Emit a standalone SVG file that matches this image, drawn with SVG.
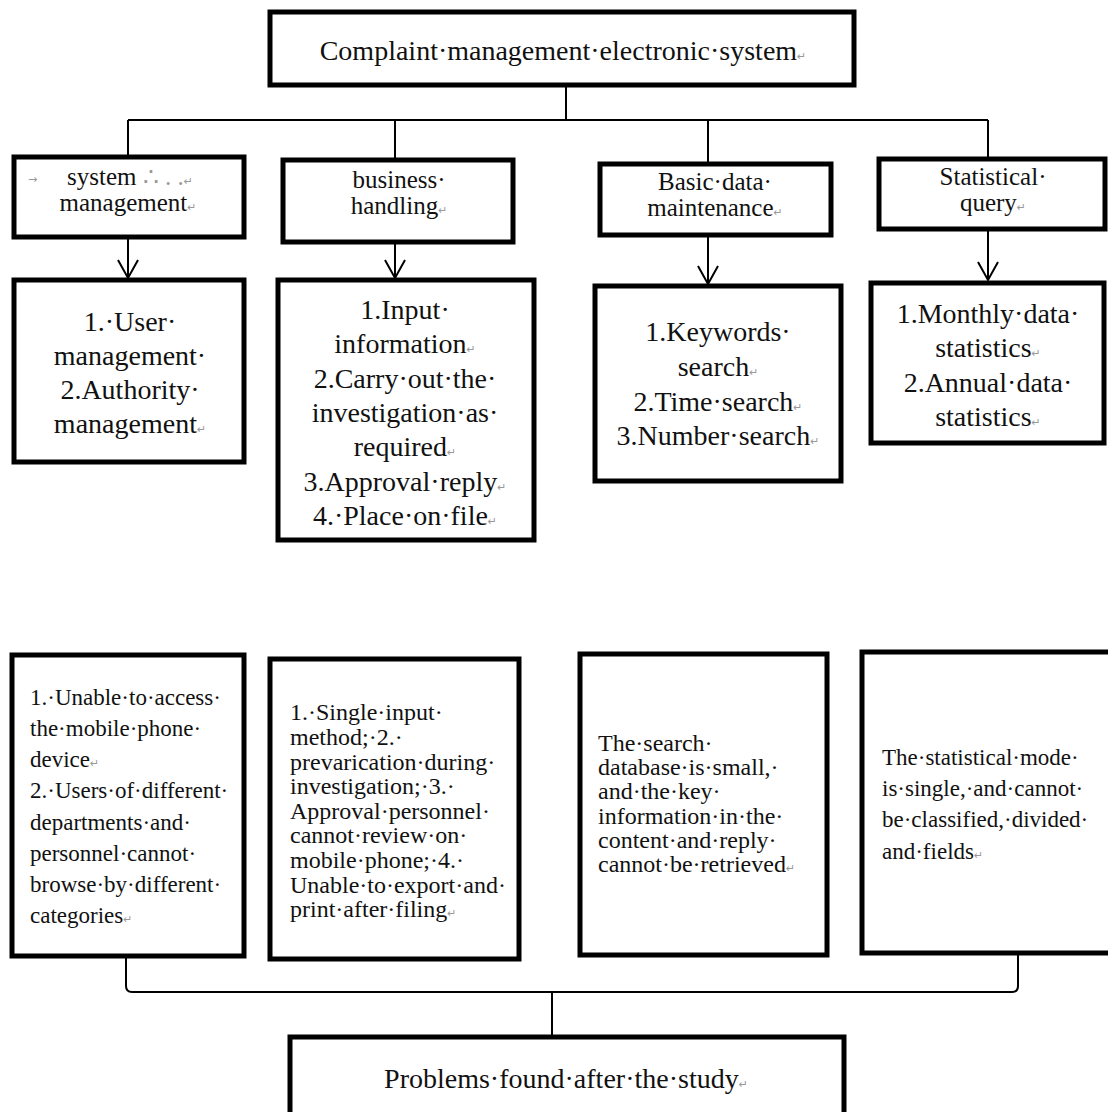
<svg xmlns="http://www.w3.org/2000/svg" width="1108" height="1112" viewBox="0 0 1108 1112">
<style>
.box{fill:#fff;stroke:#000;stroke-width:5}
.ln{fill:none;stroke:#000;stroke-width:2}
text{font-family:"Liberation Serif","Times New Roman",serif;fill:#111}
.c{text-anchor:middle}
.t28{font-size:28px}
.t25{font-size:25px}
.t24{font-size:24px}
.t23{font-size:23px}
.pm{fill:#999;font-size:11px;font-family:"DejaVu Sans",sans-serif}
.gd{fill:#999}
</style>
<defs>
<marker id="arr" markerWidth="26" markerHeight="22" refX="22" refY="11" orient="auto" markerUnits="userSpaceOnUse">
<path d="M4,1 L22,11 L4,21" fill="none" stroke="#000" stroke-width="2"/>
</marker>
</defs>
<g id="connectors">
<path class="ln" d="M566,86 V120 M128,120 H988 M128,120 V155 M395,120 V158 M708,120 V162 M988,120 V157"/>
<path class="ln" d="M128,238 V278" marker-end="url(#arr)"/>
<path class="ln" d="M395,243 V278" marker-end="url(#arr)"/>
<path class="ln" d="M708,236 V284" marker-end="url(#arr)"/>
<path class="ln" d="M988,230 V280" marker-end="url(#arr)"/>
<path class="ln" d="M126,957 V986 Q126,992 132,992 H1012 Q1018,992 1018,986 V954 M552,992 V1035"/>
</g>
<g id="root">
<rect class="box" x="270" y="12" width="584" height="73"/>
<text class="c t28" x="563" y="60">Complaint·management·electronic·system<tspan class="pm">↵</tspan></text>
</g>
<g id="sysmgmt">
<rect class="box" x="14" y="157" width="230" height="80"/>
<text class="pm" x="28" y="183">→</text>
<text class="c t25" x="130" y="185">system <tspan class="gd">∴ . .</tspan><tspan class="pm">↵</tspan></text>
<text class="c t25" x="128" y="211">management<tspan class="pm">↵</tspan></text>
</g>
<g id="business">
<rect class="box" x="283" y="160" width="230" height="82"/>
<text class="c t25" x="399" y="188">business·</text>
<text class="c t25" x="399" y="214">handling<tspan class="pm">↵</tspan></text>
</g>
<g id="basic">
<rect class="box" x="600" y="164" width="231" height="71"/>
<text class="c t25" x="715" y="190">Basic·data·</text>
<text class="c t25" x="715" y="216">maintenance<tspan class="pm">↵</tspan></text>
</g>
<g id="statq">
<rect class="box" x="879" y="159" width="226" height="70"/>
<text class="c t25" x="993" y="185">Statistical·</text>
<text class="c t25" x="993" y="211">query<tspan class="pm">↵</tspan></text>
</g>
<g id="userbox">
<rect class="box" x="14" y="280" width="230" height="182"/>
<text class="c t28" x="130" y="331">1.·User·</text>
<text class="c t28" x="130" y="365">management·</text>
<text class="c t28" x="130" y="399">2.Authority·</text>
<text class="c t28" x="130" y="433">management<tspan class="pm">↵</tspan></text>
</g>
<g id="bizbox">
<rect class="box" x="278" y="280" width="256" height="260"/>
<text class="c t28" x="405" y="319">1.Input·</text>
<text class="c t28" x="405" y="353">information<tspan class="pm">↵</tspan></text>
<text class="c t28" x="405" y="388">2.Carry·out·the·</text>
<text class="c t28" x="405" y="422">investigation·as·</text>
<text class="c t28" x="405" y="456">required<tspan class="pm">↵</tspan></text>
<text class="c t28" x="405" y="491">3.Approval·reply<tspan class="pm">↵</tspan></text>
<text class="c t28" x="405" y="525">4.·Place·on·file<tspan class="pm">↵</tspan></text>
</g>
<g id="searchbox">
<rect class="box" x="595" y="286" width="246" height="195"/>
<text class="c t28" x="718" y="341">1.Keywords·</text>
<text class="c t28" x="718" y="376">search<tspan class="pm">↵</tspan></text>
<text class="c t28" x="718" y="411">2.Time·search<tspan class="pm">↵</tspan></text>
<text class="c t28" x="718" y="445">3.Number·search<tspan class="pm">↵</tspan></text>
</g>
<g id="statbox">
<rect class="box" x="871" y="283" width="233" height="160"/>
<text class="c t28" x="988" y="323">1.Monthly·data·</text>
<text class="c t28" x="988" y="357">statistics<tspan class="pm">↵</tspan></text>
<text class="c t28" x="988" y="392">2.Annual·data·</text>
<text class="c t28" x="988" y="426">statistics<tspan class="pm">↵</tspan></text>
</g>
<g id="prob1">
<rect class="box" x="12" y="655" width="232" height="301"/>
<text class="t23" x="30" y="705">1.·Unable·to·access·</text>
<text class="t23" x="30" y="736">the·mobile·phone·</text>
<text class="t23" x="30" y="767">device<tspan class="pm">↵</tspan></text>
<text class="t23" x="30" y="798">2.·Users·of·different·</text>
<text class="t23" x="30" y="830">departments·and·</text>
<text class="t23" x="30" y="861">personnel·cannot·</text>
<text class="t23" x="30" y="892">browse·by·different·</text>
<text class="t23" x="30" y="923">categories<tspan class="pm">↵</tspan></text>
</g>
<g id="prob2">
<rect class="box" x="270" y="659" width="249" height="300"/>
<text class="t24" x="290" y="720">1.·Single·input·</text>
<text class="t24" x="290" y="745">method;·2.·</text>
<text class="t24" x="290" y="770">prevarication·during·</text>
<text class="t24" x="290" y="794">investigation;·3.·</text>
<text class="t24" x="290" y="819">Approval·personnel·</text>
<text class="t24" x="290" y="843">cannot·review·on·</text>
<text class="t24" x="290" y="868">mobile·phone;·4.·</text>
<text class="t24" x="290" y="893">Unable·to·export·and·</text>
<text class="t24" x="290" y="917">print·after·filing<tspan class="pm">↵</tspan></text>
</g>
<g id="prob3">
<rect class="box" x="580" y="654" width="247" height="301"/>
<text class="t24" x="598" y="751">The·search·</text>
<text class="t24" x="598" y="775">database·is·small,·</text>
<text class="t24" x="598" y="799">and·the·key·</text>
<text class="t24" x="598" y="824">information·in·the·</text>
<text class="t24" x="598" y="848">content·and·reply·</text>
<text class="t24" x="598" y="872">cannot·be·retrieved<tspan class="pm">↵</tspan></text>
</g>
<g id="prob4">
<rect class="box" x="862" y="652" width="250" height="301"/>
<text class="t23" x="882" y="765">The·statistical·mode·</text>
<text class="t23" x="882" y="796">is·single,·and·cannot·</text>
<text class="t23" x="882" y="827">be·classified,·divided·</text>
<text class="t23" x="882" y="859">and·fields<tspan class="pm">↵</tspan></text>
</g>
<g id="problems">
<rect class="box" x="290" y="1037" width="554" height="90"/>
<text class="c t28" x="566" y="1088">Problems·found·after·the·study<tspan class="pm">↵</tspan></text>
</g>
</svg>
